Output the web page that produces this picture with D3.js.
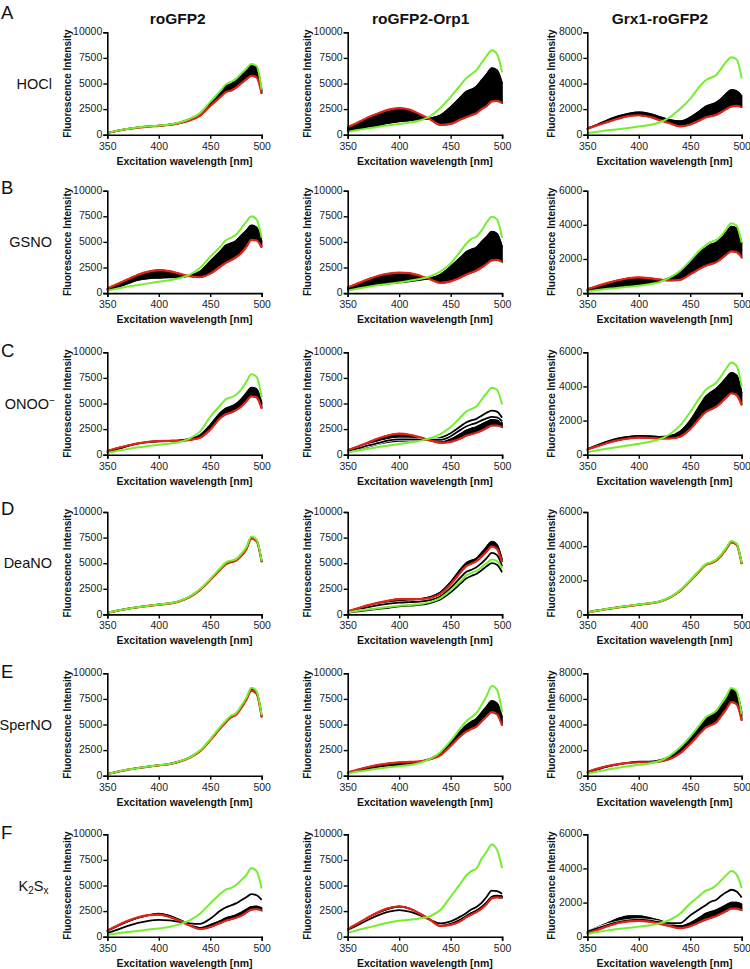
<!DOCTYPE html>
<html><head><meta charset="utf-8">
<script src="https://cdn.jsdelivr.net/npm/d3@7"></script>
<style>body{margin:0;background:#fff;} svg{display:block;font-family:"Liberation Sans",Arial,Helvetica,sans-serif;}</style>
</head><body><svg id="c" width="750" height="969"></svg>
<script>
// ---------- data ----------
const wavelengths = [350,360,370,380,390,400,410,420,430,440,450,460,465,470,475,480,485,490,495,500];
const sensors = ["roGFP2","roGFP2-Orp1","Grx1-roGFP2"];
const treatments = ["HOCl","GSNO","ONOO","DeaNO","SperNO","K2Sx"];
const panelLetters = ["A","B","C","D","E","F"];
const xTicks = [350,400,450,500];
const yMaxByRow = [[10000,10000,8000],[10000,10000,6000],[10000,10000,6000],[10000,10000,6000],[10000,10000,8000],[10000,10000,6000]];

// Row A: HOCl
const A1_green = [160,400,580,720,820,900,1000,1200,1550,2100,3200,4300,4900,5150,5450,5950,6450,6900,6700,4400];
const A1_red   = [160,390,560,690,790,860,950,1120,1400,1850,2800,3700,4150,4300,4600,5000,5400,5750,5600,4000];
const A1_band  = [160,400,575,715,815,890,990,1180,1520,2050,3100,4200,4750,4950,5300,5800,6300,6750,6550,4300];
const A2_green = [250,450,620,780,920,1050,1180,1380,1800,2600,3700,4900,5500,5900,6300,7000,7700,8250,7900,6100];
const A2_red   = [750,1200,1700,2100,2450,2600,2450,2000,1500,950,1050,1500,1700,1900,2100,2500,2800,3250,3300,3100];
const A2_band  = [350,550,750,950,1150,1300,1400,1500,1600,1900,2700,3700,4200,4400,4700,5300,5900,6500,6300,5000];
const A3_green = [130,230,340,430,530,640,750,950,1350,2000,2800,3850,4250,4450,4650,5150,5700,6050,5900,4400];
const A3_red   = [470,750,1000,1250,1450,1520,1400,1150,900,650,800,1150,1350,1450,1550,1750,2000,2200,2250,2150];
const A3_band  = [500,800,1150,1450,1650,1750,1650,1400,1150,1050,1350,1900,2200,2350,2500,2800,3200,3500,3400,3000];
// Row B: GSNO
const B1_green = [230,450,640,800,950,1100,1250,1450,1800,2450,3550,4550,5150,5400,5700,6300,6950,7500,7200,5400];
const B1_red   = [450,900,1350,1800,2100,2250,2150,1900,1650,1550,1900,2600,2950,3200,3500,3900,4500,5200,5150,4450];
const B1_band  = [350,600,950,1300,1450,1500,1550,1550,1700,2100,3100,4100,4650,4850,5100,5600,6100,6600,6400,5000];
const B2_green = [230,450,620,780,920,1040,1200,1370,1650,2100,2900,4150,4800,5300,5500,6100,6900,7450,7200,5400];
const B2_red   = [550,950,1350,1700,1900,2000,1950,1700,1350,1000,1150,1550,1800,2000,2200,2500,2850,3200,3250,3050];
const B2_band  = [300,500,680,830,950,1050,1150,1300,1450,1800,2600,3500,4000,4250,4450,5000,5500,6000,5800,4500];
const B3_green = [100,180,250,310,370,430,520,640,900,1300,1900,2550,2800,3000,3100,3350,3750,4100,3950,2950];
const B3_red   = [230,420,600,750,870,920,880,800,740,780,1100,1450,1600,1700,1800,2000,2250,2450,2400,2100];
const B3_band  = [130,220,300,370,440,500,580,700,900,1250,1800,2400,2650,2850,2950,3200,3550,3900,3800,2900];
// Row C: ONOO-
const C1_green = [160,380,560,720,850,970,1080,1230,1600,2250,3700,4850,5400,5600,5850,6350,7100,7850,7600,5600];
const C1_red   = [350,650,900,1100,1250,1330,1350,1350,1450,1650,2450,3600,3950,4100,4350,4700,5200,5700,5600,4500];
const C1_band  = [250,550,850,1100,1250,1300,1350,1400,1550,1900,2900,4100,4500,4700,4950,5400,6000,6550,6400,5000];
const C2_green = [200,400,580,750,900,1050,1200,1350,1600,2000,2700,3700,4200,4450,4700,5350,6000,6550,6350,4900];
const C2_red   = [450,800,1200,1600,1900,2050,1950,1700,1400,1150,1250,1600,1850,2000,2150,2350,2600,2850,2850,2700];
const C2_band  = [400,700,1050,1400,1650,1750,1700,1550,1400,1250,1500,2050,2350,2550,2700,2950,3200,3400,3350,3100];
const C2_line1 = [350,550,800,1050,1250,1350,1400,1450,1500,1650,2100,2800,3150,3350,3500,3800,4100,4300,4200,3600];
const C2_line2 = [380,620,900,1150,1400,1500,1500,1480,1450,1450,1800,2450,2750,2950,3100,3350,3550,3700,3650,3250];
const C3_green = [150,260,360,450,550,640,750,900,1200,1700,2500,3400,3800,4000,4200,4600,5050,5400,5200,4000];
const C3_red   = [300,500,700,850,950,1000,980,950,950,1050,1500,2200,2500,2650,2800,3050,3350,3600,3500,2900];
const C3_band  = [330,560,780,950,1050,1100,1080,1050,1100,1350,2000,2950,3400,3650,3850,4150,4500,4800,4650,3600];
// Row D: DeaNO
const D1_green = [160,380,560,720,850,970,1080,1300,1750,2450,3450,4550,5050,5250,5400,5900,6550,7600,7300,5200];
const D1_red   = [160,370,550,700,830,950,1050,1270,1700,2380,3350,4400,4900,5100,5250,5700,6350,7400,7150,5100];
const D1_band  = [160,375,555,710,840,960,1065,1285,1725,2420,3400,4480,4980,5180,5330,5800,6450,7500,7250,5150];
const D2_green = [180,350,480,600,720,850,920,1000,1200,1600,2350,3300,3800,4050,4250,4600,5000,5350,5200,4500];
const D2_red   = [300,600,900,1150,1350,1500,1500,1500,1600,2000,2950,4150,4700,4950,5200,5650,6150,6650,6400,5100];
const D2_band  = [250,520,800,1000,1150,1250,1350,1500,1700,2150,3150,4450,5000,5250,5450,6000,6600,7100,6800,5300];
const D2_line1 = [250,480,700,900,1050,1150,1200,1250,1400,1750,2600,3650,4150,4350,4600,5000,5500,6000,5800,4700];
const D2_line2 = [150,300,430,550,650,780,850,930,1100,1450,2150,3050,3500,3750,3950,4300,4700,5000,4850,4100];
const D3_green = [110,230,330,420,500,580,650,760,1000,1400,2000,2650,2950,3050,3200,3500,3900,4300,4150,3000];
const D3_red   = [110,225,320,410,490,570,640,745,980,1370,1960,2600,2900,3000,3150,3440,3830,4220,4080,2950];
const D3_band  = [110,228,325,415,495,575,645,752,990,1385,1980,2625,2925,3025,3175,3470,3865,4260,4115,2975];
// Row E: SperNO
const E1_green = [160,400,600,760,900,1030,1150,1400,1800,2450,3550,4800,5350,5850,6100,6800,7600,8600,8250,5900];
const E1_red   = [160,390,590,750,890,1010,1130,1370,1760,2380,3450,4650,5200,5700,5950,6600,7400,8300,8000,5700];
const E1_band  = [160,395,595,755,895,1020,1140,1385,1780,2420,3500,4730,5280,5780,6030,6700,7500,8500,8150,5800];
const E2_green = [200,400,560,700,820,930,1050,1250,1650,2300,3400,4700,5300,5700,6100,6900,7800,8750,8400,6200];
const E2_red   = [300,600,850,1050,1200,1300,1350,1400,1600,2000,2900,3900,4300,4550,4800,5300,5800,6200,6000,4900];
const E2_band  = [250,480,700,880,1000,1100,1200,1350,1650,2200,3200,4400,4900,5250,5550,6150,6750,7300,7050,5700];
const E3_green = [150,330,480,620,740,850,950,1150,1550,2200,3050,4050,4550,4800,5050,5600,6200,6850,6600,4800];
const E3_red   = [300,550,760,900,1000,1050,1050,1100,1300,1750,2500,3350,3750,3950,4150,4650,5200,5750,5600,4300];
const E3_band  = [250,500,720,880,1000,1100,1100,1200,1500,2100,2950,4000,4500,4750,5000,5550,6150,6750,6500,4900];
// Row F: K2Sx
const F1_green = [160,330,460,570,700,810,950,1200,1600,2250,3250,4200,4600,4750,5050,5500,6000,6700,6400,4700];
const F1_red   = [600,1100,1550,1900,2100,2150,1950,1550,1100,750,950,1350,1550,1700,1850,2050,2350,2650,2700,2550];
const F1_band  = [550,1050,1500,1850,2100,2250,2050,1650,1200,850,1150,1550,1800,1950,2100,2350,2650,2900,2950,2800];
const F1_line1 = [350,700,1050,1350,1550,1650,1600,1450,1300,1250,1750,2550,2850,3050,3250,3550,3850,4150,4050,3600];
const F2_green = [350,650,900,1150,1380,1550,1650,1780,2000,2600,3900,5250,5950,6400,6650,7600,8300,9000,8500,6700];
const F2_red   = [750,1300,1900,2400,2800,2950,2750,2250,1650,1050,1150,1550,1900,2150,2400,2750,3200,3750,3850,3800];
const F2_band  = [700,1250,1850,2350,2750,2950,2750,2250,1700,1150,1300,1700,2050,2300,2550,2900,3350,3900,4000,3950];
const F2_line1 = [650,1150,1650,2100,2450,2600,2450,2100,1650,1300,1500,2000,2300,2650,2900,3300,3900,4500,4450,4200];
const F3_green = [150,270,370,450,520,590,650,780,980,1350,1950,2450,2700,2800,3000,3300,3600,3850,3650,2850];
const F3_red   = [200,400,620,800,900,930,880,760,620,500,620,870,1000,1100,1200,1350,1500,1650,1650,1550];
const F3_band  = [300,550,800,1050,1200,1200,1100,950,750,620,800,1150,1350,1450,1550,1700,1850,2000,2000,1900];
const F3_line1 = [300,500,700,850,950,1000,950,850,800,800,1250,1650,1850,2050,2150,2400,2600,2750,2650,2300];

const panels = [
  [{g:A1_green,r:A1_red,b:A1_band,l:[]},{g:A2_green,r:A2_red,b:A2_band,l:[]},{g:A3_green,r:A3_red,b:A3_band,l:[]}],
  [{g:B1_green,r:B1_red,b:B1_band,l:[]},{g:B2_green,r:B2_red,b:B2_band,l:[]},{g:B3_green,r:B3_red,b:B3_band,l:[]}],
  [{g:C1_green,r:C1_red,b:C1_band,l:[]},{g:C2_green,r:C2_red,b:C2_band,l:[C2_line1,C2_line2]},{g:C3_green,r:C3_red,b:C3_band,l:[]}],
  [{g:D1_green,r:D1_red,b:D1_band,l:[]},{g:D2_green,r:D2_red,b:D2_band,l:[D2_line1,D2_line2]},{g:D3_green,r:D3_red,b:D3_band,l:[]}],
  [{g:E1_green,r:E1_red,b:E1_band,l:[]},{g:E2_green,r:E2_red,b:E2_band,l:[]},{g:E3_green,r:E3_red,b:E3_band,l:[]}],
  [{g:F1_green,r:F1_red,b:F1_band,l:[F1_line1]},{g:F2_green,r:F2_red,b:F2_band,l:[F2_line1]},{g:F3_green,r:F3_red,b:F3_band,l:[F3_line1]}]
];

// ---------- layout ----------
const rowTops = [32.3,190.7,352.3,512,673.3,834.3];
const plotH = 102.4;
const colX = [107.3,347.7,587.3];
const plotW = 154.4;
const titleX = [177.7,420.7,660];
const yTitleX = [67,307,551];
const letterY = [18.5,193.5,356.5,515,678,839];

const GREEN = "#74ee2e", RED = "#e2231a";
const svg = d3.select("#c");

// column titles
sensors.forEach((s,i)=>{
  svg.append("text").attr("x",titleX[i]).attr("y",23.5).attr("text-anchor","middle")
    .attr("font-size",15.5).attr("font-weight","bold").attr("fill","#111").text(s);
});

// row letters and treatment labels
panelLetters.forEach((L,r)=>{
  svg.append("text").attr("x",1).attr("y",letterY[r]).attr("font-size",18.5).attr("fill","#111").text(L);
  const cy = rowTops[r]+plotH/2;
  const t = svg.append("text").attr("y",cy+5).attr("font-size",14.5).attr("fill","#111").attr("text-anchor","end");
  const name = treatments[r];
  if(name==="ONOO"){
    t.attr("x",55);
    t.append("tspan").text("ONOO");
    t.append("tspan").attr("dy",-5).attr("font-size",10).text("\u2212");
  } else if(name==="K2Sx"){
    t.attr("x",48.5);
    t.append("tspan").text("K");
    t.append("tspan").attr("dy",3).attr("font-size",10).text("2");
    t.append("tspan").attr("dy",-3).text("S");
    t.append("tspan").attr("dy",3).attr("font-size",10).text("x");
  } else {
    t.attr("x",52).text(name);
  }
});

// panels
panels.forEach((row,r)=>{
  row.forEach((p,c)=>{
    const x0 = colX[c], y0 = rowTops[r];
    const ymax = yMaxByRow[r][c];
    const x = d3.scaleLinear().domain([350,500]).range([x0,x0+plotW]);
    const y = d3.scaleLinear().domain([0,ymax]).range([y0+plotH,y0]);
    const g = svg.append("g");
    const line = d3.line().x((d,i)=>x(wavelengths[i])).y(d=>y(d)).curve(d3.curveMonotoneX);
    const area = d3.area().x((d,i)=>x(wavelengths[i])).y0((d,i)=>y(p.r[i])).y1(d=>y(d)).curve(d3.curveMonotoneX);
    // black band of intermediate spectra
    g.append("path").datum(p.b).attr("d",area).attr("fill","#000").attr("stroke","#000").attr("stroke-width",1.4);
    g.append("path").datum(p.b).attr("d",line).attr("fill","none").attr("stroke","#000").attr("stroke-width",1.8);
    p.l.forEach(ld=>{
      g.append("path").datum(ld).attr("d",line).attr("fill","none").attr("stroke","#fff").attr("stroke-width",3);
      g.append("path").datum(ld).attr("d",line).attr("fill","none").attr("stroke","#000").attr("stroke-width",1.8);
    });
    g.append("path").datum(p.r).attr("d",line).attr("fill","none").attr("stroke",RED).attr("stroke-width",2.2);
    g.append("path").datum(p.g).attr("d",line).attr("fill","none").attr("stroke",GREEN).attr("stroke-width",2);

    const step = ymax===10000?2500:2000;
    const yAxis = d3.axisLeft(y).tickValues(d3.range(0,ymax+1,step)).tickSize(4).tickPadding(1).tickFormat(d3.format("d"));
    const xAxis = d3.axisBottom(x).tickValues(xTicks).tickSize(4).tickPadding(3.5).tickFormat(d3.format("d"));
    const ya = svg.append("g").attr("transform",`translate(${x0},0)`).call(yAxis);
    const xa = svg.append("g").attr("transform",`translate(0,${y0+plotH})`).call(xAxis);
    [ya,xa].forEach(a=>{
      a.select(".domain").attr("stroke","#000").attr("stroke-width",1.6);
      a.selectAll(".tick line").attr("stroke","#000").attr("stroke-width",1.4);
      a.selectAll(".tick text").attr("font-size",10.5).attr("fill","#222").attr("font-family","Liberation Sans, Arial, sans-serif");
    });
    ya.selectAll(".tick text").attr("dy","0.25em");
    svg.append("text").attr("x",x0+plotW/2).attr("y",y0+plotH+30).attr("text-anchor","middle")
      .attr("font-size",10.5).attr("font-weight","bold").attr("fill","#111").text("Excitation wavelength [nm]");
    svg.append("text").attr("transform",`translate(${yTitleX[c]},${y0+plotH/2}) rotate(-90)`)
      .attr("text-anchor","middle").attr("dominant-baseline","central")
      .attr("font-size",10).attr("font-weight","bold").attr("fill","#111").text("Fluorescence Intensity");
  });
});
</script></body></html>
